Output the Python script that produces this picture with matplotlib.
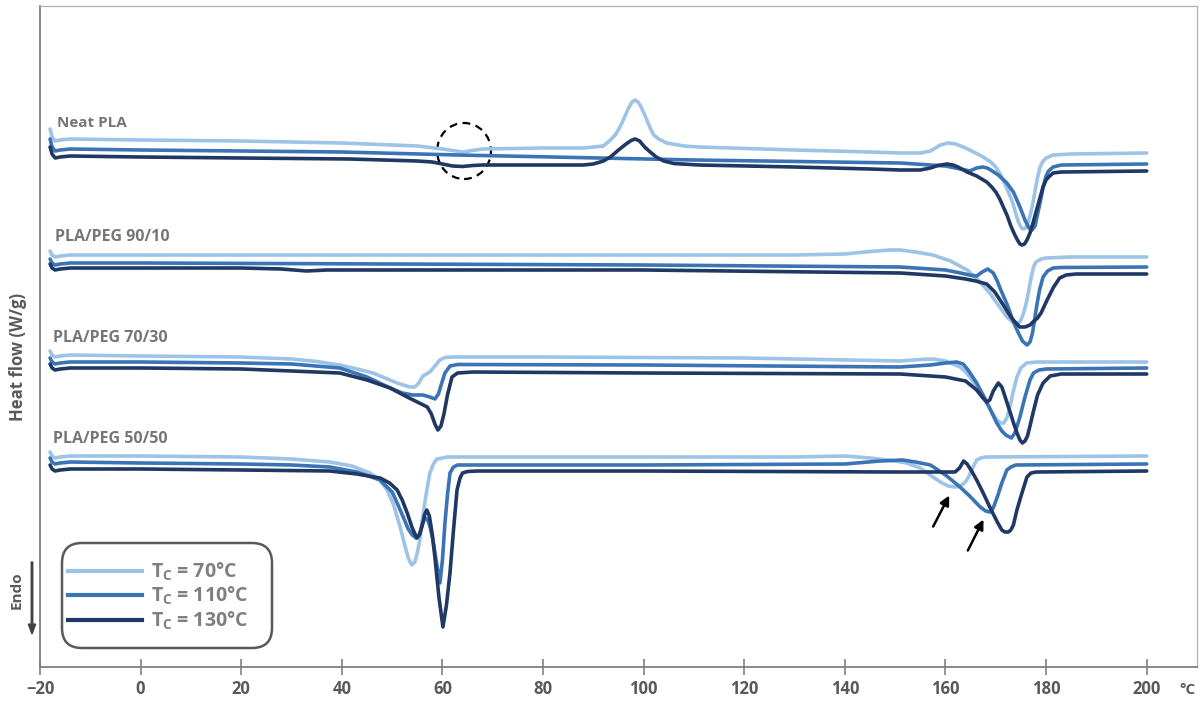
import matplotlib
matplotlib.use("Agg")
import matplotlib.pyplot as plt
from matplotlib.patches import Ellipse, FancyBboxPatch, FancyArrow
from matplotlib.lines import Line2D

plt.rcParams['font.family'] = ['Open Sans', 'DejaVu Sans']
plt.rcParams['font.weight'] = 'bold'
plt.rcParams['mathtext.fontset'] = 'custom'
plt.rcParams['mathtext.bf'] = 'Open Sans:bold'
plt.rcParams['mathtext.rm'] = 'Open Sans:bold'

# temperatures (°C) and heat flow (W/g, curves offset for clarity)
neat_70_t = [-18, -17.6, -17, -16, -14, 0, 20, 40, 55, 60, 64, 68, 80, 88, 90, 92, 93.4, 94.5, 95.5, 96.3,
             97, 97.7, 98.3, 98.9, 99.5, 100.3, 101.3, 102, 103, 104.6, 108, 111, 130, 145, 151, 155, 157,
             158, 159, 160.5, 162, 164, 166, 167.5, 169, 170, 171, 172, 173, 173.5, 174, 174.5, 175, 175.4,
             175.9, 176.3, 176.8, 177.3, 177.8, 178.2, 178.8, 179.4, 180, 181.4, 185, 200]
neat_70_hf = [5.38, 5.30, 5.26, 5.27, 5.28, 5.27, 5.26, 5.24, 5.21, 5.18, 5.15, 5.18, 5.19, 5.19, 5.20, 5.21,
              5.27, 5.33, 5.42, 5.51, 5.59, 5.65, 5.67, 5.65, 5.60, 5.51, 5.39, 5.32, 5.28, 5.24, 5.21, 5.20,
              5.17, 5.15, 5.14, 5.14, 5.16, 5.19, 5.22, 5.24, 5.23, 5.19, 5.14, 5.10, 5.05, 5.00, 4.92, 4.81,
              4.69, 4.62, 4.53, 4.45, 4.40, 4.38, 4.39, 4.42, 4.51, 4.62, 4.76, 4.87, 5.00, 5.06, 5.09, 5.12,
              5.13, 5.14]
neat_110_t = [-18, -17.6, -17, -16, -14, 0, 20, 40, 63, 110, 151, 160, 163, 164.8, 166.2, 167.4, 168.3, 169,
              170.5, 172.2, 173.5, 174.8, 175.8, 176.6, 177.2, 177.8, 178.4, 179, 179.4, 180, 180.5, 181.4,
              183, 200]
neat_110_hf = [5.28, 5.20, 5.16, 5.17, 5.18, 5.17, 5.16, 5.15, 5.12, 5.07, 5.04, 5.01, 4.98, 4.96, 4.99, 5.00,
               4.99, 4.97, 4.92, 4.84, 4.75, 4.60, 4.47, 4.39, 4.37, 4.41, 4.55, 4.69, 4.80, 4.91, 4.96, 5.00,
               5.02, 5.03]
neat_130_t = [-18, -17.6, -17, -16, -14, 0, 20, 41.6, 55, 58, 60, 62, 64, 66, 68, 88, 90, 92, 93.4, 95, 96.5,
              97.5, 98.3, 99.2, 100.2, 101.3, 102.5, 104, 106, 111, 130, 145, 151, 155, 157, 158.5, 160.3,
              161.5, 162.5, 164.3, 166.2, 168.2, 169.2, 170, 170.8, 171.5, 172.3, 173, 173.7, 174.3, 174.8,
              175.2, 175.7, 176.2, 176.8, 177.4, 178, 178.5, 179.4, 180, 180.5, 181.4, 183, 200]
neat_130_hf = [5.20, 5.13, 5.09, 5.10, 5.11, 5.10, 5.09, 5.08, 5.06, 5.05, 5.03, 5.01, 5.005, 5.015, 5.02,
               5.02, 5.03, 5.06, 5.10, 5.17, 5.23, 5.265, 5.28, 5.26, 5.20, 5.15, 5.10, 5.06, 5.035, 5.02,
               5.00, 4.98, 4.97, 4.97, 4.99, 5.015, 5.03, 5.02, 5.00, 4.95, 4.91, 4.85, 4.80, 4.75, 4.68,
               4.60, 4.51, 4.41, 4.33, 4.27, 4.23, 4.22, 4.23, 4.27, 4.34, 4.44, 4.55, 4.64, 4.80, 4.87, 4.90,
               4.94, 4.95, 4.96]

p90_70_t = [-18, -17.6, -17, -16, -14, 0, 40, 100, 130, 140, 145, 149, 151, 154, 157.5, 161, 164.3, 166.5,
            168.8, 170.5, 172.2, 173.3, 174.2, 174.8, 175.4, 175.8, 176.2, 176.6, 177, 177.5, 178, 179, 180,
            185, 200]
p90_70_hf = [4.16, 4.12, 4.10, 4.11, 4.12, 4.12, 4.12, 4.12, 4.12, 4.13, 4.155, 4.17, 4.17, 4.15, 4.12, 4.06,
             3.97, 3.87, 3.74, 3.62, 3.50, 3.45, 3.44, 3.45, 3.52, 3.59, 3.67, 3.78, 3.89, 4.00, 4.05, 4.08,
             4.09, 4.10, 4.10]
p90_110_t = [-18, -17.6, -17, -16, -14, 0, 50, 100, 151, 160, 163, 165.2, 166.2, 167.3, 168.4, 169.5, 170.3,
             171, 172.3, 173.6, 174.5, 175.3, 176.2, 176.8, 177.3, 177.7, 178.1, 178.7, 179.4, 180.3, 181.4,
             183, 200]
p90_110_hf = [4.08, 4.04, 4.02, 4.03, 4.04, 4.04, 4.03, 4.02, 4.00, 3.97, 3.94, 3.915, 3.91, 3.95, 3.98, 3.94,
              3.86, 3.77, 3.62, 3.44, 3.34, 3.26, 3.22, 3.25, 3.34, 3.47, 3.60, 3.77, 3.90, 3.96, 3.99, 3.995,
              4.00]
p90_130_t = [-18, -17.6, -17, -16, -14, 0, 20, 28, 33, 37, 45, 100, 151, 160, 164, 166, 168.2, 169.8, 171.5,
             173, 174, 174.8, 175.8, 176.8, 177.4, 178.3, 179, 180.2, 181.5, 182.7, 184, 186, 200]
p90_130_hf = [4.03, 3.99, 3.97, 3.98, 3.99, 3.99, 3.99, 3.98, 3.96, 3.97, 3.97, 3.97, 3.94, 3.91, 3.88, 3.86,
              3.83, 3.75, 3.62, 3.50, 3.44, 3.40, 3.40, 3.42, 3.45, 3.49, 3.54, 3.67, 3.80, 3.89, 3.92, 3.93,
              3.93]

p70_70_t = [-18, -17.6, -17, -16, -14, 0, 20, 30, 35, 39.6, 43, 46.2, 48.6, 51, 53.5, 54.5, 55.3, 56.1, 57.5,
            58.5, 59.5, 60.5, 62, 80, 120, 151, 155, 157.5, 160, 162.9, 164, 165, 166, 166.9, 168.5, 170.2,
            171, 171.6, 172.2, 172.8, 173.5, 174.2, 175, 176.1, 178, 200]
p70_70_hf = [3.16, 3.12, 3.10, 3.11, 3.12, 3.11, 3.10, 3.08, 3.055, 3.02, 2.98, 2.94, 2.89, 2.84, 2.80, 2.80,
             2.84, 2.91, 2.95, 3.01, 3.07, 3.095, 3.10, 3.10, 3.09, 3.06, 3.075, 3.08, 3.06, 3.00, 2.95, 2.89,
             2.82, 2.74, 2.61, 2.47, 2.44, 2.44, 2.49, 2.60, 2.76, 2.90, 2.99, 3.04, 3.05, 3.05]
p70_110_t = [-18, -17.6, -17, -16, -14, 0, 20, 30, 39.6, 45, 49.6, 52, 54.1, 56.1, 57.5, 58.5, 59.2, 59.8,
             60.5, 61.5, 63, 100, 151, 157, 160, 162.2, 163.5, 164.5, 166.2, 168, 170.2, 171.2, 172, 173.1,
             173.8, 174.3, 174.8, 175.8, 176.8, 177.5, 178.6, 180, 200]
p70_110_hf = [3.09, 3.05, 3.03, 3.04, 3.05, 3.05, 3.04, 3.03, 2.99, 2.90, 2.79, 2.74, 2.72, 2.72, 2.70, 2.68,
              2.73, 2.83, 2.94, 3.01, 3.025, 3.02, 3.00, 3.02, 3.04, 3.05, 3.03, 2.97, 2.84, 2.67, 2.44, 2.36,
              2.32, 2.29, 2.34, 2.42, 2.50, 2.70, 2.87, 2.94, 2.97, 2.98, 2.99]
p70_130_t = [-18, -17.6, -17, -16, -14, 0, 20, 30, 39.6, 45, 49.6, 53, 55, 57, 57.8, 58.5, 59.1, 59.7, 60.3,
             61, 61.9, 63, 66, 100, 151, 160, 164, 166.2, 167.3, 168.2, 168.8, 169.5, 170.5, 171.2, 171.8,
             172.9, 173.6, 174.3, 174.8, 175.3, 175.8, 176.3, 176.8, 177.4, 178.3, 179.4, 180.8, 183, 200]
p70_130_hf = [3.03, 2.99, 2.97, 2.98, 2.99, 2.99, 2.98, 2.96, 2.94, 2.87, 2.79, 2.70, 2.65, 2.60, 2.53, 2.43,
              2.37, 2.41, 2.53, 2.72, 2.90, 2.94, 2.95, 2.94, 2.93, 2.90, 2.86, 2.77, 2.70, 2.65, 2.67, 2.76,
              2.84, 2.80, 2.71, 2.54, 2.43, 2.33, 2.27, 2.24, 2.26, 2.31, 2.41, 2.54, 2.72, 2.84, 2.91, 2.93,
              2.93]

p50_70_t = [-18, -17.6, -17, -16, -14, 0, 20, 30, 37.6, 42, 45.6, 47.5, 49, 50.3, 51.6, 52.5, 53.2, 53.9, 54.5,
            55, 55.5, 55.9, 56.7, 57.5, 58.2, 58.9, 61, 100, 130, 140, 145, 150, 152.3, 155, 157.5, 159, 160.5,
            161.9, 162.8, 163.5, 164.1, 164.6, 165.1, 165.5, 166.2, 167, 168, 200]
p50_70_hf = [2.15, 2.11, 2.09, 2.10, 2.11, 2.11, 2.10, 2.08, 2.05, 2.01, 1.94, 1.87, 1.77, 1.62, 1.40, 1.22,
             1.09, 1.02, 1.05, 1.14, 1.27, 1.44, 1.71, 1.94, 2.03, 2.08, 2.10, 2.10, 2.10, 2.11, 2.09, 2.06,
             2.04, 1.99, 1.90, 1.85, 1.81, 1.80, 1.805, 1.83, 1.86, 1.90, 1.96, 2.00, 2.07, 2.09, 2.10, 2.11]
p50_110_t = [-18, -17.6, -17, -16, -14, 0, 20, 30, 37.6, 43, 47.6, 50, 51, 52.2, 53.2, 54, 54.8, 55.3, 55.7,
             56.1, 56.5, 57, 57.5, 58.1, 58.8, 59.5, 60, 60.5, 61, 61.5, 62.2, 63, 100, 140, 147, 151.5, 154,
             157, 160, 162.9, 165, 166.9, 168, 168.8, 169.5, 170.3, 171.2, 172.2, 173, 174, 200]
p50_110_hf = [2.09, 2.05, 2.03, 2.04, 2.05, 2.04, 2.03, 2.02, 2.00, 1.95, 1.87, 1.75, 1.64, 1.50, 1.38, 1.32,
              1.29, 1.31, 1.37, 1.44, 1.49, 1.48, 1.41, 1.27, 1.05, 0.84, 1.07, 1.44, 1.72, 1.94, 2.00, 2.02,
              2.02, 2.03, 2.06, 2.07, 2.05, 2.02, 1.92, 1.80, 1.70, 1.60, 1.56, 1.55, 1.59, 1.70, 1.84, 1.97,
              2.00, 2.02, 2.03]
p50_130_t = [-18, -17.6, -17, -16, -14, 0, 20, 37.6, 43, 47.6, 49.5, 51, 52, 53, 54, 54.9, 55.5, 56, 56.5,
             56.9, 57.4, 58, 58.5, 59.3, 60.1, 60.8, 61.5, 62.2, 62.9, 63.5, 64, 65, 67, 100, 150, 161.9, 162.8,
             163.6, 164.3, 165.2, 166.2, 167.5, 168.8, 170.3, 171.2, 171.8, 172.5, 173, 173.5, 174.2, 175.2,
             176.2, 177, 178, 200]
p50_130_hf = [2.02, 1.98, 1.96, 1.97, 1.98, 1.98, 1.97, 1.96, 1.93, 1.89, 1.84, 1.77, 1.67, 1.54, 1.39, 1.29,
              1.33, 1.42, 1.53, 1.57, 1.51, 1.32, 1.10, 0.70, 0.40, 0.62, 0.94, 1.37, 1.77, 1.89, 1.94, 1.955,
              1.96, 1.96, 1.95, 1.95, 1.99, 2.06, 2.03, 1.96, 1.87, 1.74, 1.60, 1.45, 1.37, 1.35, 1.35, 1.37,
              1.42, 1.57, 1.74, 1.90, 1.94, 1.95, 1.96]

sample_names = ["Neat PLA", "PLA/PEG 90/10", "PLA/PEG 70/30", "PLA/PEG 50/50"]
sample_label_pos = [(-16.6, 5.44), (-17.0, 4.30), (-17.4, 3.29), (-17.4, 2.28)]
tc_labels = [r"$\mathbf{T_C}$ = 70°C", r"$\mathbf{T_C}$ = 110°C", r"$\mathbf{T_C}$ = 130°C"]
colors = ["#9dc3e6", "#3b74b5", "#1f3864"]

curves = [
    [(neat_70_t, neat_70_hf), (neat_110_t, neat_110_hf), (neat_130_t, neat_130_hf)],
    [(p90_70_t, p90_70_hf), (p90_110_t, p90_110_hf), (p90_130_t, p90_130_hf)],
    [(p70_70_t, p70_70_hf), (p70_110_t, p70_110_hf), (p70_130_t, p70_130_hf)],
    [(p50_70_t, p50_70_hf), (p50_110_t, p50_110_hf), (p50_130_t, p50_130_hf)],
]

fig = plt.figure(figsize=(12.03, 7.06), dpi=100)
ax = fig.add_axes([40 / 1203, 39 / 706, 1157 / 1203, 661 / 706])

for group in curves:
    for (t, hf), c in zip(group, colors):
        ax.plot(t, hf, color=c, lw=2.6, solid_joinstyle='round', solid_capstyle='round')

for name, (x, y) in zip(sample_names, sample_label_pos):
    fs = 11 if name == "Neat PLA" else 11.5
    ax.text(x, y, name, fontsize=fs, fontweight='bold', color='#767676', va='center', ha='left')

# dashed circle around the Tg step
ax.add_patch(Ellipse((64.3, 5.16), 10.7, 0.56, fill=False, ls=(0, (3.5, 2.5)), lw=1.6, ec='black'))

# arrows on the 50/50 melting shoulders
ax.annotate("", xy=(161.0, 1.74), xytext=(157.3, 1.38),
            arrowprops=dict(arrowstyle='-|>', color='black', lw=1.8, mutation_scale=14))
ax.annotate("", xy=(167.8, 1.50), xytext=(164.2, 1.14),
            arrowprops=dict(arrowstyle='-|>', color='black', lw=1.8, mutation_scale=14))

ax.set_xlim(-20, 210)
ax.set_ylim(0, 6.61)
ax.set_xticks(range(-20, 201, 20))
ax.set_yticks([])
ax.tick_params(axis='x', direction='inout', length=11, width=1.2, color='#808080',
               labelsize=12, labelcolor='#595959', pad=4)
for lab in ax.get_xticklabels():
    lab.set_fontweight('bold')
ax.spines['left'].set_color('#808080')
ax.spines['bottom'].set_color('#808080')
ax.spines['left'].set_linewidth(1.3)
ax.spines['bottom'].set_linewidth(1.3)
ax.spines['top'].set_color('#b0b0b0')
ax.spines['right'].set_color('#b0b0b0')
ax.spines['top'].set_linewidth(0.9)
ax.spines['right'].set_linewidth(0.9)

fig.text(1188 / 1203, 1 - 690 / 706, "°C", fontsize=11, fontweight='bold', color='#595959',
         ha='center', va='center')
fig.text(18 / 1203, 1 - 357 / 706, "Heat flow (W/g)", rotation=90, fontsize=12, fontweight='bold',
         color='#595959', ha='center', va='center')
fig.text(17 / 1203, 1 - 590 / 706, "Endo", rotation=90, fontsize=11, fontweight='bold',
         color='#595959', ha='center', va='center')
fig.patches.append(FancyArrow(
    32 / 1203, 1 - 562 / 706, 0, -(72 / 706), width=0.0012, head_width=0.006, head_length=0.014,
    length_includes_head=True, color='#404040', transform=fig.transFigure, figure=fig))

# legend box with rounded corners
box = FancyBboxPatch((0.62, 0.58), 2.10, 1.05, boxstyle="round,pad=0,rounding_size=0.2",
                     transform=fig.dpi_scale_trans, fill=False, ec='#595959', lw=1.8)
fig.patches.append(box)
handles = [Line2D([], [], color=c, lw=3) for c in colors]
ax.legend(handles, tc_labels, loc='center left', bbox_to_anchor=(0.019, 0.107), frameon=False,
          labelcolor='#7f7f7f', handlelength=3.8, handletextpad=0.5, labelspacing=0.1,
          borderpad=0.3, borderaxespad=0, prop={'weight': 'bold', 'size': 14})

fig.savefig("out.png", dpi=100)
